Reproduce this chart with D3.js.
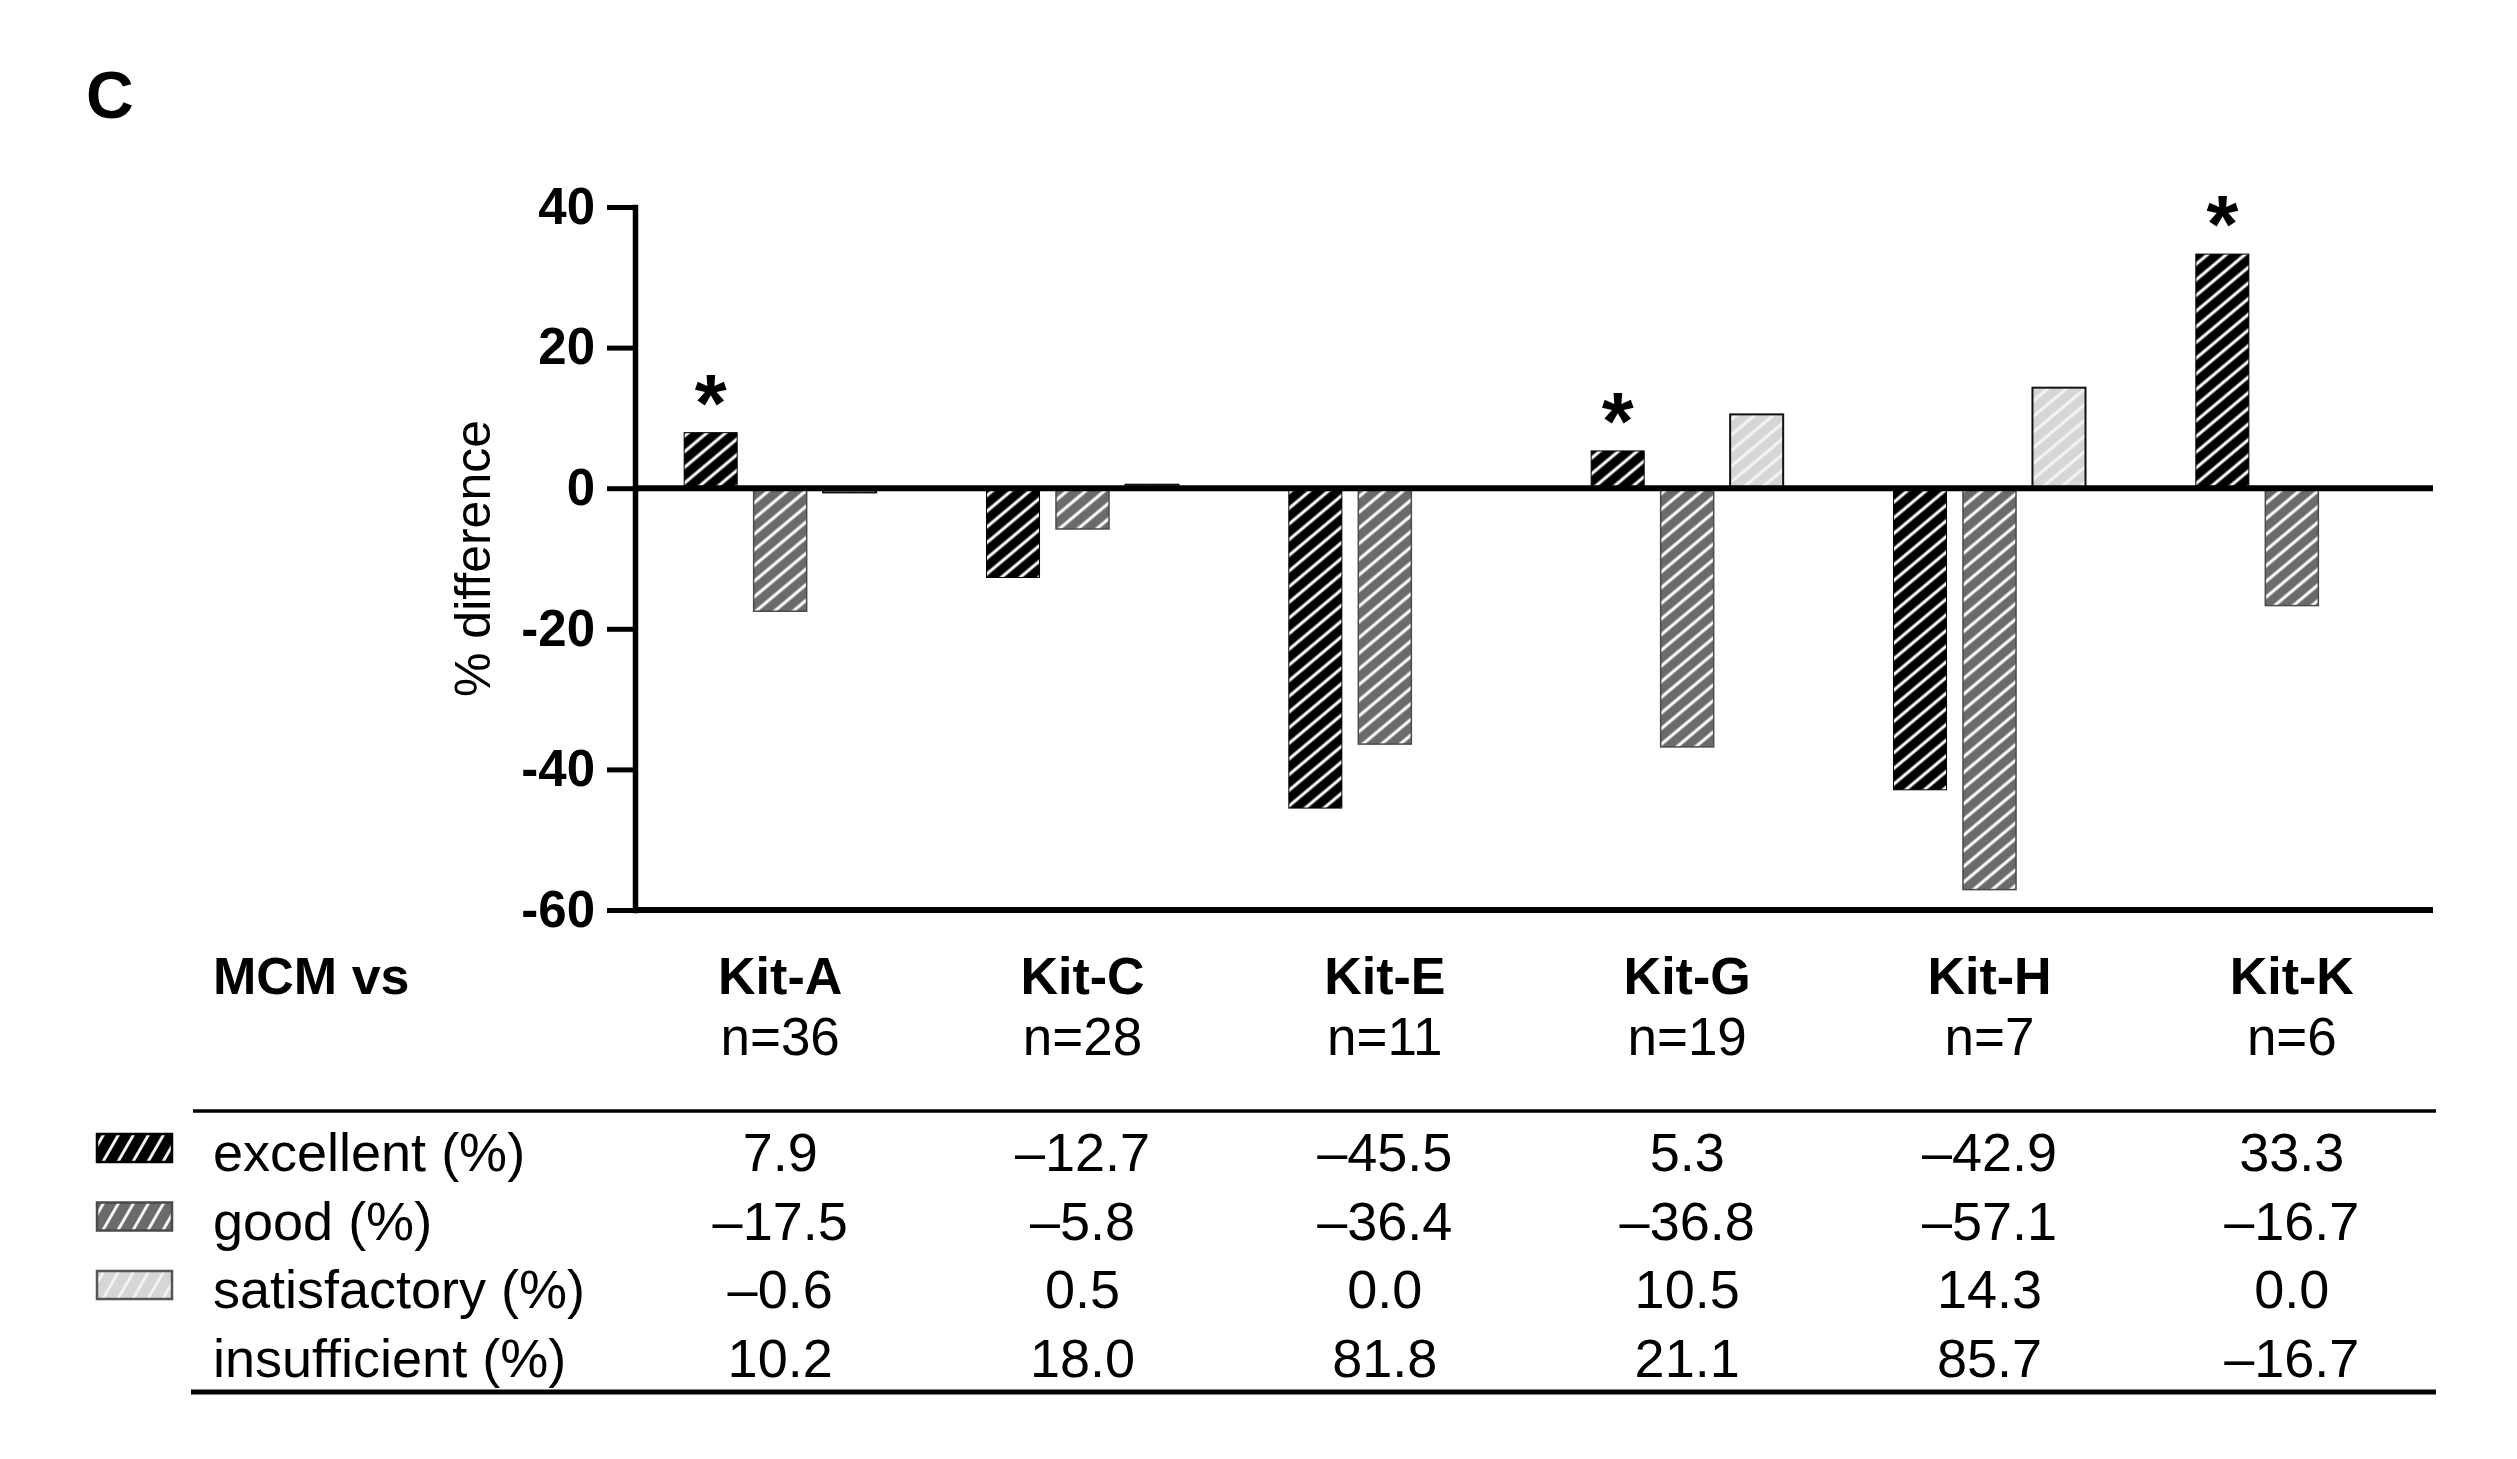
<!DOCTYPE html>
<html>
<head>
<meta charset="utf-8">
<script src="https://cdn.jsdelivr.net/npm/d3@7"></script>
<style>
  body { margin: 0; background: #fff; }
  text { font-family: "Liberation Sans", Arial, sans-serif; fill: #000; }
</style>
</head>
<body>
<div id="chart"></div>
<script>
// Values (panel C)
var kits         = ["Kit-A", "Kit-C", "Kit-E", "Kit-G", "Kit-H", "Kit-K"];
var kitN         = ["n=36", "n=28", "n=11", "n=19", "n=7", "n=6"];
var grades       = ["excellent", "good", "satisfactory"];
var excellent    = [7.9, -12.7, -45.5, 5.3, -42.9, 33.3];
var good         = [-17.5, -5.8, -36.4, -36.8, -57.1, -16.7];
var satisfactory = [-0.6, 0.5, 0.0, 10.5, 14.3, 0.0];
var insufficient = [10.2, 18.0, 81.8, 21.1, 85.7, -16.7];
var starred      = ["Kit-A", "Kit-G", "Kit-K"];
var yTicks       = [40, 20, 0, -20, -40, -60];
var rowLabels    = ["excellent (%)", "good (%)", "satisfactory (%)", "insufficient (%)"];

// Layout
var width  = 2517,
    height = 1459,
    plot   = { left: 635, right: 2433, top: 207, bottom: 910 },
    font   = '"Liberation Sans", Arial, sans-serif';

// Look of each grade: fill, hatch colour, outline
var looks = {
  excellent:    { fill: "#000",    hatch: "#fff",    stroke: "#000",    sw: 1 },
  good:         { fill: "#6b6b6b", hatch: "#fff",    stroke: "#4a4a4a", sw: 1.5 },
  satisfactory: { fill: "#d6d6d6", hatch: "#f4f4f4", stroke: "#111",    sw: 2 }
};

var series = { excellent: excellent, good: good, satisfactory: satisfactory };

var svg = d3.select("#chart")
  .append("svg")
    .attr("width", width)
    .attr("height", height)
    .style("background", "#fff");

// Hatch patterns, one for bars and a steeper one for legend swatches
var defs = svg.append("defs");
function make_pattern(id, look, size, angle, lw) {
  var p = defs.append("pattern")
      .attr("id", id)
      .attr("patternUnits", "userSpaceOnUse")
      .attr("width", size)
      .attr("height", size)
      .attr("patternTransform", "rotate(" + angle + ")");
  p.append("rect")
      .attr("width", size)
      .attr("height", size)
      .attr("fill", look.fill);
  p.append("line")
      .attr("x1", size / 2).attr("y1", 0)
      .attr("x2", size / 2).attr("y2", size)
      .attr("stroke", look.hatch)
      .attr("stroke-width", lw);
}
grades.forEach(function(g) {
  make_pattern("bar-" + g, looks[g], 12, 50, 3);
  make_pattern("leg-" + g, looks[g], 13, 30, 2.8);
});

// Scales
var x = d3.scaleBand()
    .domain(kits)
    .range([629, 2443]);

var xSub = d3.scaleBand()
    .domain(grades)
    .range([-96, 96])
    .paddingInner(0.237);

var y = d3.scaleLinear()
    .domain([-60, 40])
    .range([plot.bottom, plot.top]);

function center(k) { return x(k) + x.bandwidth() / 2; }

// Panel letter
svg.append("text")
    .attr("x", 86)
    .attr("y", 118)
    .style("font-size", "66px")
    .style("font-weight", "bold")
    .text("C");

// Bars
var bars = [];
kits.forEach(function(k, i) {
  grades.forEach(function(g) {
    bars.push({ kit: k, grade: g, value: series[g][i] });
  });
});

svg.append("g")
    .attr("class", "bars")
  .selectAll("rect")
  .data(bars.filter(function(d) { return d.value !== 0; }))
  .enter()
  .append("rect")
    .attr("x", function(d) { return center(d.kit) + xSub(d.grade); })
    .attr("y", function(d) { return y(Math.max(0, d.value)); })
    .attr("width", xSub.bandwidth())
    .attr("height", function(d) { return Math.abs(y(d.value) - y(0)); })
    .attr("fill", function(d) { return "url(#bar-" + d.grade + ")"; })
    .attr("stroke", function(d) { return looks[d.grade].stroke; })
    .attr("stroke-width", function(d) { return looks[d.grade].sw; });

// Significance asterisks above the excellent bars
svg.append("g")
    .attr("class", "stars")
  .selectAll("text")
  .data(bars.filter(function(d) { return d.grade === "excellent" && starred.indexOf(d.kit) >= 0; }))
  .enter()
  .append("text")
    .attr("x", function(d) { return center(d.kit) + xSub(d.grade) + xSub.bandwidth() / 2; })
    .attr("y", function(d) { return y(d.value) - 2; })
    .attr("text-anchor", "middle")
    .style("font-size", "82px")
    .style("font-weight", "bold")
    .text("*");

// Y axis
var yAxis = svg.append("g")
    .attr("transform", "translate(" + plot.left + ",0)")
    .call(d3.axisLeft(y)
      .tickValues(yTicks)
      .tickFormat(function(d) { return String(d); })
      .tickSize(28)
      .tickSizeOuter(0)
      .tickPadding(12));

yAxis.select(".domain")
    .attr("stroke", "#000")
    .attr("stroke-width", 5.5)
    .attr("stroke-linecap", "square");
yAxis.selectAll(".tick line")
    .attr("stroke", "#000")
    .attr("stroke-width", 5);
yAxis.selectAll(".tick text")
    .attr("font-family", font)
    .style("font-size", "51px")
    .style("font-weight", "bold");

// Zero line and bottom frame line
svg.append("g")
  .selectAll("line")
  .data([0, -60])
  .enter()
  .append("line")
    .attr("x1", plot.left)
    .attr("x2", plot.right)
    .attr("y1", function(d) { return y(d); })
    .attr("y2", function(d) { return y(d); })
    .attr("stroke", "#000")
    .attr("stroke-width", 6);

// Y axis title
svg.append("text")
    .attr("transform", "translate(490," + ((plot.top + plot.bottom) / 2) + ") rotate(-90)")
    .attr("text-anchor", "middle")
    .style("font-size", "50px")
    .text("% difference");

// Table under the chart
var head = svg.append("g").attr("class", "table-head");

head.append("text")
    .attr("x", 213)
    .attr("y", 994)
    .style("font-size", "52px")
    .style("font-weight", "bold")
    .text("MCM vs");

head.selectAll(".kit")
  .data(kits)
  .enter()
  .append("text")
    .attr("class", "kit")
    .attr("x", center)
    .attr("y", 994)
    .attr("text-anchor", "middle")
    .style("font-size", "52px")
    .style("font-weight", "bold")
    .text(function(d) { return d; });

head.selectAll(".n")
  .data(kits)
  .enter()
  .append("text")
    .attr("class", "n")
    .attr("x", center)
    .attr("y", 1055)
    .attr("text-anchor", "middle")
    .style("font-size", "53px")
    .text(function(d, i) { return kitN[i]; });

// Rules
svg.append("line")
    .attr("x1", 193).attr("x2", 2436)
    .attr("y1", 1111).attr("y2", 1111)
    .attr("stroke", "#000")
    .attr("stroke-width", 3.5);
svg.append("line")
    .attr("x1", 191).attr("x2", 2436)
    .attr("y1", 1392).attr("y2", 1392)
    .attr("stroke", "#000")
    .attr("stroke-width", 5);

// Rows: legend swatch, label, one value per kit
var rowValues = [excellent, good, satisfactory, insufficient];
var rowY = function(i) { return 1171 + i * 68.5; };

function fmt(v) { return (v < 0 ? "\u2013" : "") + Math.abs(v).toFixed(1); }

var rows = svg.append("g")
    .attr("class", "table-rows")
  .selectAll("g")
  .data(rowLabels)
  .enter()
  .append("g")
    .attr("transform", function(d, i) { return "translate(0," + rowY(i) + ")"; });

rows.filter(function(d, i) { return i < grades.length; })
  .append("rect")
    .attr("x", 97)
    .attr("y", -37)
    .attr("width", 75)
    .attr("height", 28)
    .attr("fill", function(d, i) { return "url(#leg-" + grades[i] + ")"; })
    .attr("stroke", function(d, i) { return i === 2 ? "#555" : looks[grades[i]].stroke; })
    .attr("stroke-width", 2.5);

rows.append("text")
    .attr("x", 213)
    .style("font-size", "54px")
    .text(function(d) { return d; });

rows.each(function(label, i) {
  d3.select(this).selectAll(".val")
    .data(rowValues[i])
    .enter()
    .append("text")
      .attr("class", "val")
      .attr("x", function(v, j) { return center(kits[j]); })
      .attr("text-anchor", "middle")
      .style("font-size", "54px")
      .text(fmt);
});
</script>
</body>
</html>
